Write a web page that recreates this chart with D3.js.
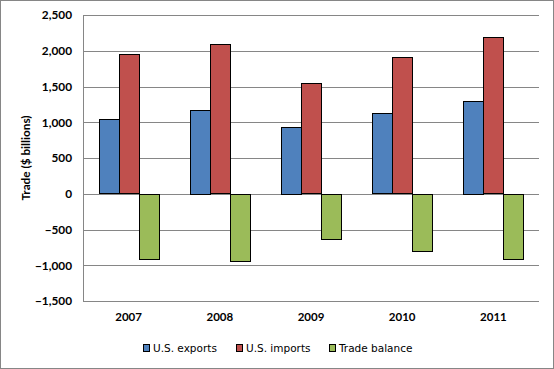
<!DOCTYPE html>
<html><head><meta charset="utf-8">
<script src="https://cdn.jsdelivr.net/npm/d3@7"></script>
<style>body{margin:0;background:#fff}svg{display:block}</style>
</head><body>
<svg id="c" width="554" height="369"></svg>
<script>
const years = ["2007","2008","2009","2010","2011"];
const exportsVals = [1041, 1171, 938, 1125, 1297];
const importsVals = [1950, 2089, 1545, 1908, 2188];
const balanceVals = [-903, -931, -623, -791, -903];
const seriesNames = ["U.S. exports","U.S. imports","Trade balance"];
const seriesColors = ["#4F81BD","#C0504D","#9BBB59"];
const yTicks = [-1500,-1000,-500,0,500,1000,1500,2000,2500];

const svg = d3.select("#c");
svg.append("rect").attr("x",0.5).attr("y",0.5).attr("width",553).attr("height",368)
  .attr("fill","#fff").attr("stroke","#868686");

const L=83, R=539, T=15, B=301;
const y = d3.scaleLinear().domain([-1500,2500]).range([B,T]);
const x = d3.scaleBand().domain(years).range([L,R]);
const bw = 20;
const xs = d3.scaleBand().domain(seriesNames).range([0,bw*3]);
const boldFont = "Lato,'Open Sans',sans-serif";

// gridlines
svg.append("g").selectAll("line").data(yTicks).join("line")
  .attr("x1",L).attr("x2",R).attr("y1",d=>Math.round(y(d))+0.5).attr("y2",d=>Math.round(y(d))+0.5)
  .attr("stroke","#868686").attr("stroke-width",1);
svg.append("line").attr("x1",L+0.5).attr("x2",L+0.5).attr("y1",Math.round(y(2500))+0.5).attr("y2",Math.round(y(-1500))+0.5)
  .attr("stroke","#868686");

// y axis labels
const yAxis = d3.axisLeft(y).tickValues(yTicks).tickSize(0).tickPadding(0).tickFormat(d3.format(","));
const ga = svg.append("g").attr("transform",`translate(${L-11},0)`).call(yAxis);
ga.select(".domain").remove();
ga.selectAll("text").style("font-family",boldFont).style("font-size","11.8px").style("font-weight","bold").attr("fill","#000");

// x labels
const xAxis = d3.axisBottom(x).tickSize(0).tickPadding(0);
const gx = svg.append("g").attr("transform",`translate(0,${313})`).call(xAxis);
gx.select(".domain").remove();
gx.selectAll("text").style("font-family",boldFont).style("font-size","11.5px").style("font-weight","bold").attr("fill","#000");

// bars
const data = [exportsVals, importsVals, balanceVals];
data.forEach((vals,si)=>{
  svg.append("g").selectAll("rect").data(vals).join("rect")
    .attr("x",(d,i)=>Math.round(x(years[i]) + x.bandwidth()/2 - bw*1.5 + xs(seriesNames[si]))+0.5)
    .attr("width",bw)
    .attr("y",d=>Math.round(y(Math.max(0,d)))+0.5)
    .attr("height",d=>Math.round(Math.abs(y(d)-y(0))))
    .attr("fill",seriesColors[si]).attr("stroke","#000").attr("stroke-width",1);
});

// axis title
svg.append("text").attr("transform",`translate(30,158) rotate(-90)`).attr("text-anchor","middle")
  .style("font-family",boldFont).style("font-size","11.8px").style("font-weight","bold").text("Trade ($ billions)");

// legend
const legX = [143, 236, 329];
const lg = svg.append("g");
seriesNames.forEach((n,i)=>{
  lg.append("rect").attr("x",legX[i]+0.5).attr("y",344.5).attr("width",6).attr("height",7)
    .attr("fill",seriesColors[i]).attr("stroke","#000");
  lg.append("text").attr("x",legX[i]+10).attr("y",352)
    .style("font-family","'DejaVu Sans',sans-serif").style("font-size","10.5px").attr("fill","#000").text(n);
});
</script>
</body></html>
